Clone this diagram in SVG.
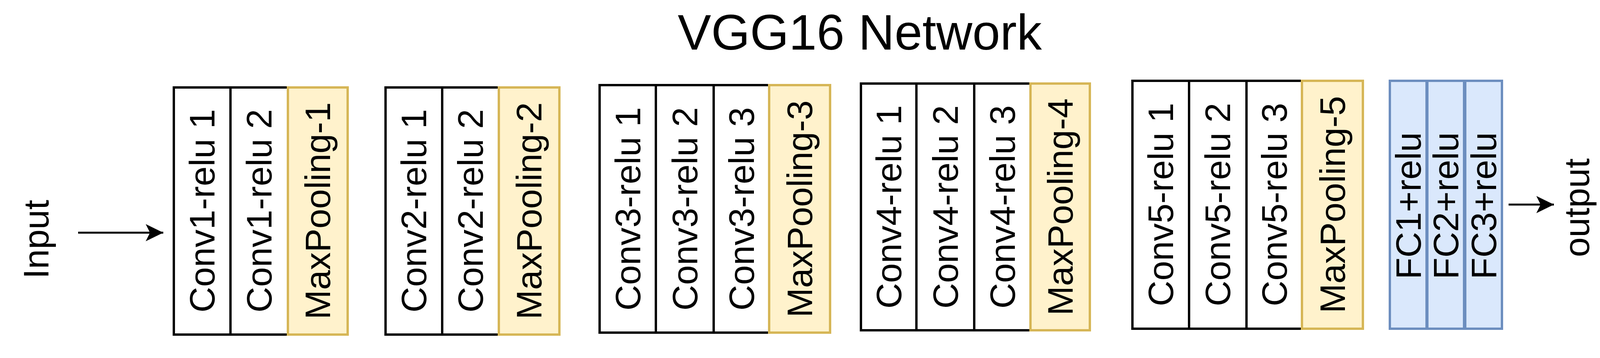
<svg xmlns="http://www.w3.org/2000/svg" width="4218" height="917" viewBox="0 0 4218 917">
<style>
text{font-family:"Liberation Sans",Arial,sans-serif;fill:#000}
.lbl{font-size:91px;text-anchor:middle}
.title{font-size:128px;text-anchor:middle}
.conv{fill:#fff;stroke:#000;stroke-width:6}
.pool{fill:#fff2cc;stroke:#d6b656;stroke-width:6}
.fc{fill:#dae8fc;stroke:#6c8ebf;stroke-width:6}
.edge{stroke:#000;stroke-width:5;fill:none}
</style>
<defs>
<marker id="arr" markerUnits="userSpaceOnUse" markerWidth="50" markerHeight="50" refX="45" refY="22" orient="auto">
<path d="M0,0 L45,22 L0,44 L11,22 Z" fill="#000"/>
</marker>
</defs>
<rect width="4218" height="917" fill="#fff"/>
<text id="title" class="title" x="2201" y="127">VGG16 Network</text>
<g id="input"><text class="lbl" transform="translate(91,613) rotate(-90)" y="33">Input</text></g>
<g id="output"><text class="lbl" transform="translate(4048,532) rotate(-90)" y="20">output</text></g>
<g id="connectors">
<line class="edge" x1="200" y1="596" x2="418" y2="596" marker-end="url(#arr)"/>
<line class="edge" x1="3862" y1="524" x2="3978" y2="524" marker-end="url(#arr)"/>
</g>
<g id="block1">
<g id="conv1_1"><rect class="conv" x="445" y="224" width="145" height="633"/><text class="lbl" transform="translate(517,540) rotate(-90)" y="32">Conv1-relu 1</text></g>
<g id="conv1_2"><rect class="conv" x="590" y="224" width="147" height="633"/><text class="lbl" transform="translate(663,540) rotate(-90)" y="32">Conv1-relu 2</text></g>
<g id="pool1"><rect class="pool" x="737" y="224" width="153" height="633"/><text class="lbl" transform="translate(813,540) rotate(-90)" y="32">MaxPooling-1</text></g>
</g>
<g id="block2">
<g id="conv2_1"><rect class="conv" x="987" y="224" width="145" height="633"/><text class="lbl" transform="translate(1059,540) rotate(-90)" y="32">Conv2-relu 1</text></g>
<g id="conv2_2"><rect class="conv" x="1132" y="224" width="145" height="633"/><text class="lbl" transform="translate(1204,540) rotate(-90)" y="32">Conv2-relu 2</text></g>
<g id="pool2"><rect class="pool" x="1277" y="224" width="155" height="633"/><text class="lbl" transform="translate(1354,540) rotate(-90)" y="32">MaxPooling-2</text></g>
</g>
<g id="block3">
<g id="conv3_1"><rect class="conv" x="1535" y="218" width="144" height="634"/><text class="lbl" transform="translate(1607,535) rotate(-90)" y="32">Conv3-relu 1</text></g>
<g id="conv3_2"><rect class="conv" x="1679" y="218" width="148" height="634"/><text class="lbl" transform="translate(1753,535) rotate(-90)" y="32">Conv3-relu 2</text></g>
<g id="conv3_3"><rect class="conv" x="1827" y="218" width="142" height="634"/><text class="lbl" transform="translate(1898,535) rotate(-90)" y="32">Conv3-relu 3</text></g>
<g id="pool3"><rect class="pool" x="1969" y="218" width="156" height="634"/><text class="lbl" transform="translate(2047,535) rotate(-90)" y="32">MaxPooling-3</text></g>
</g>
<g id="block4">
<g id="conv4_1"><rect class="conv" x="2204" y="214" width="142" height="632"/><text class="lbl" transform="translate(2275,530) rotate(-90)" y="32">Conv4-relu 1</text></g>
<g id="conv4_2"><rect class="conv" x="2346" y="214" width="148" height="632"/><text class="lbl" transform="translate(2420,530) rotate(-90)" y="32">Conv4-relu 2</text></g>
<g id="conv4_3"><rect class="conv" x="2494" y="214" width="144" height="632"/><text class="lbl" transform="translate(2566,530) rotate(-90)" y="32">Conv4-relu 3</text></g>
<g id="pool4"><rect class="pool" x="2638" y="214" width="152" height="632"/><text class="lbl" transform="translate(2714,530) rotate(-90)" y="32">MaxPooling-4</text></g>
</g>
<g id="block5">
<g id="conv5_1"><rect class="conv" x="2899" y="207" width="145" height="635"/><text class="lbl" transform="translate(2971,524) rotate(-90)" y="32">Conv5-relu 1</text></g>
<g id="conv5_2"><rect class="conv" x="3044" y="207" width="147" height="635"/><text class="lbl" transform="translate(3117,524) rotate(-90)" y="32">Conv5-relu 2</text></g>
<g id="conv5_3"><rect class="conv" x="3191" y="207" width="142" height="635"/><text class="lbl" transform="translate(3262,524) rotate(-90)" y="32">Conv5-relu 3</text></g>
<g id="pool5"><rect class="pool" x="3333" y="207" width="156" height="635"/><text class="lbl" transform="translate(3411,524) rotate(-90)" y="32">MaxPooling-5</text></g>
</g>
<g id="fc">
<g id="fc1"><rect class="fc" x="3558" y="207" width="94" height="635"/><text class="lbl" transform="translate(3605,527) rotate(-90)" y="32">FC1+relu</text></g>
<g id="fc2"><rect class="fc" x="3654" y="207" width="94" height="635"/><text class="lbl" transform="translate(3701,527) rotate(-90)" y="32">FC2+relu</text></g>
<g id="fc3"><rect class="fc" x="3751" y="207" width="94" height="635"/><text class="lbl" transform="translate(3798,527) rotate(-90)" y="32">FC3+relu</text></g>
</g>
</svg>
